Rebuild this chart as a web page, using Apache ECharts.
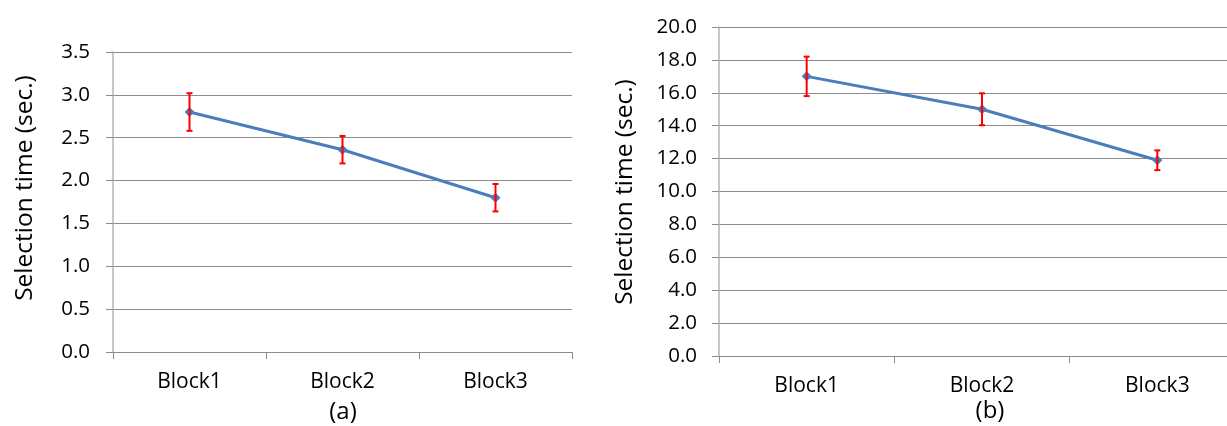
<!DOCTYPE html>
<html>
<head>
<meta charset="utf-8">
<style>
  html, body { margin: 0; padding: 0; background: #fff; }
  #chart { width: 1227px; height: 426px; }
</style>
<script src="https://cdn.jsdelivr.net/npm/echarts@6/dist/echarts.min.js"></script>
</head>
<body>
<div id="chart"></div>
<script>
// Categories shared by both panels
const categories = ['Block1', 'Block2', 'Block3'];

// Panel (a): mean selection time and error half-widths (sec.)
const meansA = [2.80, 2.36, 1.80];
const errA = [0.22, 0.16, 0.16];

// Panel (b): mean selection time and error half-widths (sec.)
const meansB = [17.0, 15.0, 11.9];
const errB = [1.2, 0.97, 0.6];

const FONT = 'Open Sans';
const LINE_BLUE = '#4A7EBB';
const ERR_RED = '#FF0000';

function errorData(means, errs) {
  return means.map((m, i) => [i, m - errs[i], m + errs[i]]);
}

function renderErrorBar(params, api) {
  const idx = api.value(0);
  const top = api.coord([idx, api.value(2)]);
  const bot = api.coord([idx, api.value(1)]);
  const cap = 3;
  const style = { stroke: ERR_RED, lineWidth: 2 };
  return {
    type: 'group',
    children: [
      { type: 'line', shape: { x1: top[0], y1: top[1], x2: bot[0], y2: bot[1] }, style },
      { type: 'line', shape: { x1: top[0] - cap, y1: top[1], x2: top[0] + cap, y2: top[1] }, style },
      { type: 'line', shape: { x1: bot[0] - cap, y1: bot[1], x2: bot[0] + cap, y2: bot[1] }, style }
    ]
  };
}

function xAxisFor(gridIndex) {
  return {
    type: 'category',
    gridIndex,
    data: categories,
    boundaryGap: true,
    axisLine: { lineStyle: { color: '#8c8c8c', width: 1 } },
    axisTick: { show: true, length: 7, lineStyle: { color: '#8c8c8c' } },
    axisLabel: { margin: 20, color: '#000', fontFamily: FONT, fontSize: 21 }
  };
}

function yAxisFor(gridIndex, max, interval, margin) {
  return {
    type: 'value',
    gridIndex,
    min: 0,
    max,
    interval,
    axisLine: { show: true, lineStyle: { color: '#b5b5b5', width: 1.5 } },
    axisTick: { show: true, length: 7, lineStyle: { color: '#8c8c8c' } },
    splitLine: { show: true, lineStyle: { color: '#8c8c8c', width: 1 } },
    axisLabel: {
      margin,
      color: '#000',
      fontFamily: FONT,
      fontSize: 20.5,
      formatter: v => v.toFixed(1)
    }
  };
}

function lineSeries(axisIndex, data) {
  return {
    type: 'line',
    xAxisIndex: axisIndex,
    yAxisIndex: axisIndex,
    data,
    symbol: 'diamond',
    symbolSize: 10,
    lineStyle: { color: LINE_BLUE, width: 3 },
    itemStyle: { color: LINE_BLUE },
    z: 3
  };
}

function errorSeries(axisIndex, data) {
  return {
    type: 'custom',
    xAxisIndex: axisIndex,
    yAxisIndex: axisIndex,
    data,
    encode: { x: 0, y: [1, 2] },
    renderItem: renderErrorBar,
    z: 4
  };
}

function label(text, x, y, rotation, size) {
  return {
    type: 'text',
    x, y,
    rotation: rotation || 0,
    style: {
      text,
      fill: '#000',
      font: size + 'px "' + FONT + '"',
      align: 'center',
      verticalAlign: 'middle'
    }
  };
}

const chart = echarts.init(document.getElementById('chart'), null, { renderer: 'canvas' });

chart.setOption({
  animation: false,
  backgroundColor: '#fff',
  grid: [
    { left: 113, top: 52, width: 459, height: 300, outerBoundsMode: 'none' },
    // the second panel's plot runs past the right edge of the page
    { left: 719, top: 27, width: 526, height: 329, outerBoundsMode: 'none' }
  ],
  xAxis: [xAxisFor(0), xAxisFor(1)],
  yAxis: [yAxisFor(0, 3.5, 0.5, 23), yAxisFor(1, 20, 2, 22)],
  series: [
    lineSeries(0, meansA),
    errorSeries(0, errorData(meansA, errA)),
    lineSeries(1, meansB),
    errorSeries(1, errorData(meansB, errB))
  ],
  graphic: [
    label('Selection time (sec.)', 25, 188, Math.PI / 2, 24.5),
    label('Selection time (sec.)', 625, 192, Math.PI / 2, 24.5),
    label('(a)', 343, 412, 0, 24),
    label('(b)', 990, 411, 0, 24)
  ]
});
</script>
</body>
</html>
